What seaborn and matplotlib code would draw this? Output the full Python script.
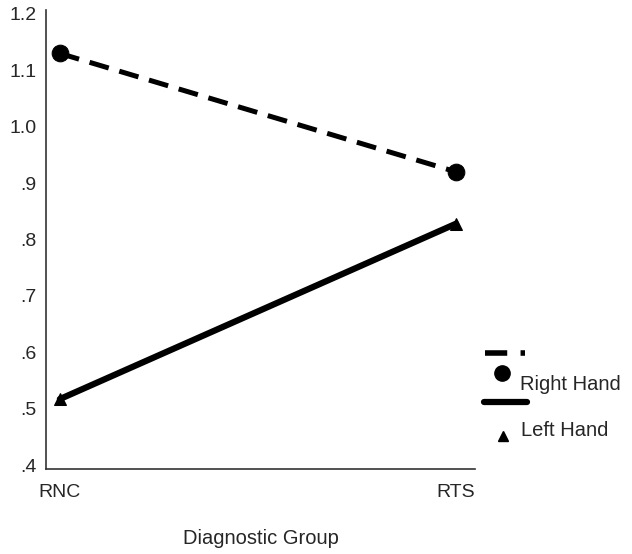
import matplotlib
matplotlib.use("Agg")
import matplotlib.pyplot as plt
from matplotlib.lines import Line2D
import numpy as np
import pandas as pd
import seaborn as sns

groups = ["RNC", "RTS"]
right_hand = [1.13, 0.92]
left_hand = [0.517, 0.828]
series_names = ["Right Hand", "Left Hand"]
yticks = [0.4, 0.5, 0.6, 0.7, 0.8, 0.9, 1.0, 1.1, 1.2]
ytick_labels = [".4", ".5", ".6", ".7", ".8", ".9", "1.0", "1.1", "1.2"]

df = pd.DataFrame({
    "group": groups * 2,
    "value": right_hand + left_hand,
    "hand": [series_names[0]] * 2 + [series_names[1]] * 2,
})

sns.set_style("white")
plt.rcParams["font.family"] = ["Liberation Sans", "DejaVu Sans"]

fig = plt.figure(figsize=(6.32, 5.54), dpi=100)
ax = fig.add_axes([46 / 632, 85 / 554, 429 / 632, 459 / 554])

sns.lineplot(data=df, x="group", y="value", hue="hand", style="hand",
             palette={"Right Hand": "black", "Left Hand": "black"},
             markers={"Right Hand": "o", "Left Hand": "^"},
             dashes={"Right Hand": (4, 2.2), "Left Hand": ""},
             linewidth=3.6, markersize=12, markeredgecolor="black",
             legend=False, ax=ax)
for line in ax.lines:
    if line.get_marker() == "^":
        line.set_markersize(8)
        line.set_linewidth(4.5)

ax.set_xlim(-0.035, 1.048)
ax.set_ylim(0.393, 1.207)
ax.set_yticks(yticks)
ax.set_yticklabels(ytick_labels)
ax.tick_params(axis="both", length=0, labelsize=14)
ax.tick_params(axis="y", pad=7)
ax.tick_params(axis="x", pad=11)
ax.set_ylabel("")
ax.set_xlabel("Diagnostic Group", fontsize=14.5, labelpad=20)
sns.despine(ax=ax)
for s in ["left", "bottom"]:
    ax.spines[s].set_color("#333333")
    ax.spines[s].set_linewidth(1.2)

# legend drawn the way the original lays it out
fig.add_artist(Line2D([485 / 632, 525 / 632], [1 - 353 / 554] * 2, color="black",
                      linewidth=4, dashes=(4, 2.4)))
fig.add_artist(Line2D([502 / 632], [1 - 373 / 554], marker="o", markersize=11,
                      color="black"))
fig.add_artist(Line2D([484 / 632, 527 / 632], [1 - 402 / 554] * 2, color="black",
                      linewidth=4.5, solid_capstyle="round"))
fig.add_artist(Line2D([503 / 632], [1 - 436 / 554], marker="^", markersize=7,
                      color="black"))
fig.text(520 / 632, 1 - 384 / 554, series_names[0], fontsize=14.5, va="center")
fig.text(521 / 632, 1 - 431 / 554, series_names[1], fontsize=14.5, va="center")

fig.savefig("out.png", dpi=100)
